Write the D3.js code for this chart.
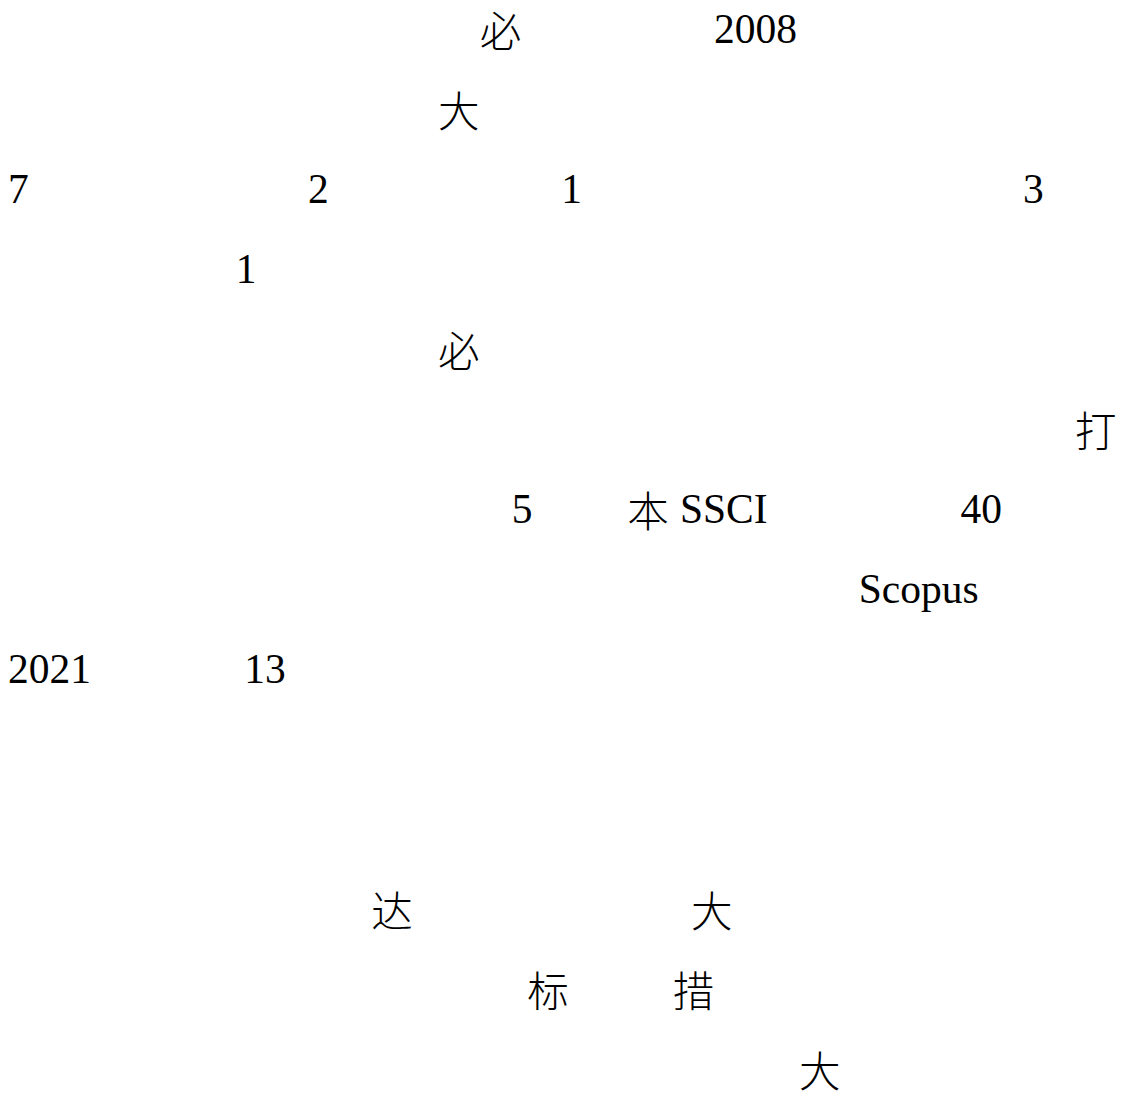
<!DOCTYPE html>
<html>
<head>
<meta charset="utf-8">
<script src="https://cdn.jsdelivr.net/npm/d3@7"></script>
<style>
  html, body { margin: 0; padding: 0; background: #fff; }
  svg { display: block; }
</style>
</head>
<body>
<svg id="chart" width="1129" height="1102"></svg>
<script>
// Text fragments visible on the page, with their line number and horizontal offset (in em units)
const tokens  = ["必", "2008", "大", "7", "2", "1", "3", "1", "必", "打", "5", "本", "SSCI", "40", "Scopus", "2021", "13", "达", "大", "标", "措", "大"];
const lines   = [0, 0, 1, 2, 2, 2, 2, 3, 4, 5, 6, 6, 6, 6, 7, 8, 8, 11, 11, 12, 12, 13];
const offsets = [11.37, 17.01, 10.36, 0, 7.23, 13.33, 24.46, 5.49, 10.36, 25.71, 12.14, 14.92, 16.19, 22.95, 20.5, 0, 5.69, 8.75, 16.46, 12.51, 16.02, 19.06];

const data = tokens.map((t, i) => ({ text: t, line: lines[i], offset: offsets[i] }));

const fontSize = 41.5;
const x = d3.scaleLinear().domain([0, 1]).range([8, 8 + fontSize]);
const y = d3.scaleLinear().domain([0, 1]).range([43, 123]);

const isCJK = s => /[\u3400-\u9fff]/.test(s);

const svg = d3.select("#chart");
svg.append("rect").attr("width", 1129).attr("height", 1102).attr("fill", "#fff");

svg.selectAll("text.tok")
  .data(data)
  .join("text")
  .attr("class", "tok")
  .attr("x", d => x(d.offset))
  .attr("y", d => y(d.line))
  .attr("dy", d => isCJK(d.text) ? 4 : 0)
  .attr("font-size", fontSize)
  .attr("font-family", d => isCJK(d.text) ? "'Noto Sans CJK SC', sans-serif" : "'Liberation Serif', 'Times New Roman', serif")
  .attr("font-weight", d => isCJK(d.text) ? 300 : 400)
  .attr("fill", "#000")
  .text(d => d.text);
</script>
</body>
</html>
